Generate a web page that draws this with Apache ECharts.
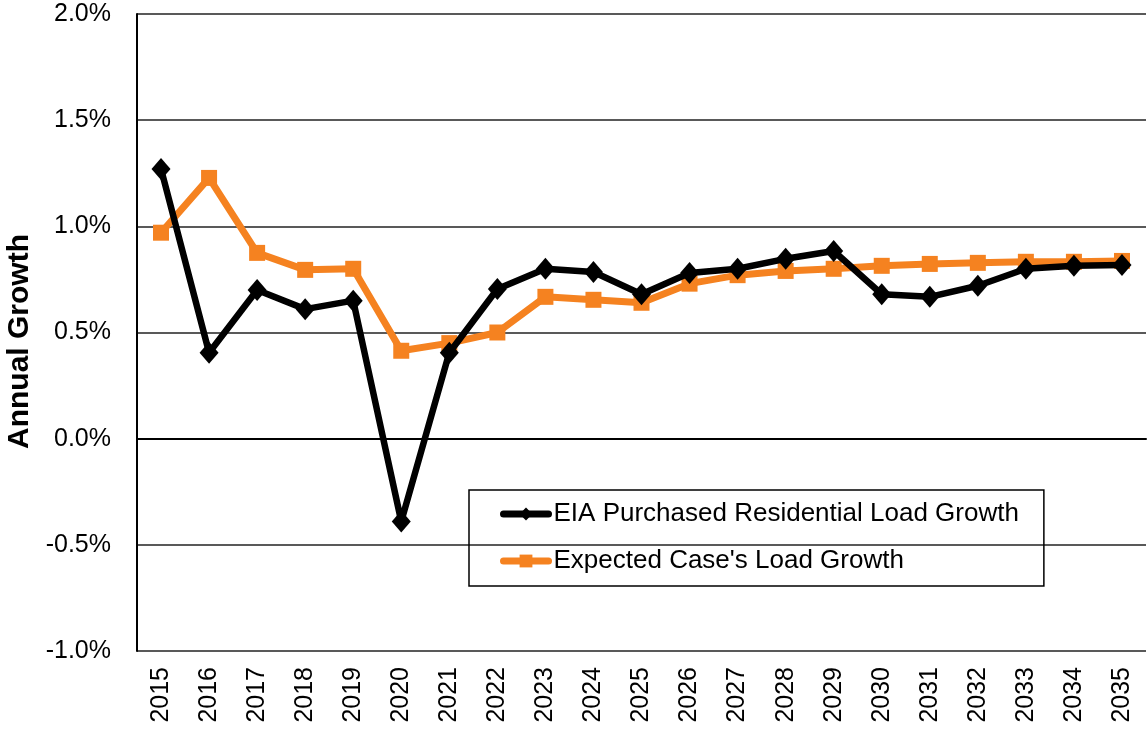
<!DOCTYPE html>
<html>
<head>
<meta charset="utf-8">
<script src="https://cdn.jsdelivr.net/npm/echarts@6/dist/echarts.min.js"></script>
<style>
  html, body { margin: 0; padding: 0; background: #fff; }
  #chart { width: 1147px; height: 731px; }
</style>
</head>
<body>
<div id="chart"></div>
<script>
const years = ['2015', '2016', '2017', '2018', '2019', '2020', '2021', '2022', '2023', '2024', '2025',
  '2026', '2027', '2028', '2029', '2030', '2031', '2032', '2033', '2034', '2035']

// annual growth, percent
const eiaGrowth = [1.27, 0.405, 0.70, 0.61, 0.65, -0.39, 0.405, 0.705, 0.80, 0.785, 0.68,
  0.78, 0.80, 0.847, 0.884, 0.68, 0.668, 0.72, 0.80, 0.814, 0.818]
const expectedGrowth = [0.97, 1.228, 0.875, 0.795, 0.80, 0.414, 0.45, 0.50, 0.668, 0.654, 0.64,
  0.73, 0.77, 0.79, 0.80, 0.814, 0.823, 0.828, 0.833, 0.833, 0.837]

const font = 'Liberation Sans, Arial, sans-serif'

const chart = echarts.init(document.getElementById('chart'))
chart.setOption({
  animation: false,
  grid: {
    left: 137,
    right: 1,
    top: 14,
    bottom: 80,
    outerBoundsMode: 'none'
  },
  legend: {
    orient: 'vertical',
    left: 469,
    top: 490,
    itemWidth: 45,
    itemHeight: 16,
    itemGap: 21,
    padding: [11, 25, 12, 31],
    borderColor: '#000',
    borderWidth: 1.5,
    borderRadius: 0,
    lineStyle: { width: 7, cap: 'round' },
    textStyle: { fontFamily: font, fontSize: 26, color: '#000' },
    data: [
      { name: 'EIA Purchased Residential Load Growth' },
      { name: "Expected Case's Load Growth" }
    ]
  },
  xAxis: {
    type: 'category',
    data: years,
    boundaryGap: true,
    axisLine: { lineStyle: { color: '#000', width: 2 } },
    axisTick: { show: false },
    axisLabel: {
      rotate: 90,
      margin: 16,
      fontFamily: font,
      fontSize: 25,
      color: '#000'
    }
  },
  yAxis: {
    type: 'value',
    min: -1,
    max: 2,
    interval: 0.5,
    name: 'Annual Growth',
    nameLocation: 'middle',
    nameGap: 102,
    nameTextStyle: { fontFamily: font, fontSize: 30, fontWeight: 'bold', color: '#000', padding: [0, 18, 0, 0] },
    axisLine: { show: true, lineStyle: { color: '#000', width: 2 } },
    axisTick: { show: false },
    splitLine: { lineStyle: { color: '#222', width: 1.5 } },
    axisLabel: {
      margin: 26,
      fontFamily: font,
      fontSize: 25,
      color: '#000',
      formatter: v => v.toFixed(1) + '%'
    }
  },
  series: [
    {
      name: 'EIA Purchased Residential Load Growth',
      type: 'line',
      data: eiaGrowth,
      symbol: 'diamond',
      symbolSize: [19, 22],
      z: 3,
      itemStyle: { color: '#000' },
      lineStyle: { color: '#000', width: 6.5 }
    },
    {
      name: "Expected Case's Load Growth",
      type: 'line',
      data: expectedGrowth,
      symbol: 'rect',
      symbolSize: 16,
      z: 2,
      itemStyle: { color: '#f58220' },
      lineStyle: { color: '#f58220', width: 7 }
    }
  ]
})
</script>
</body>
</html>
